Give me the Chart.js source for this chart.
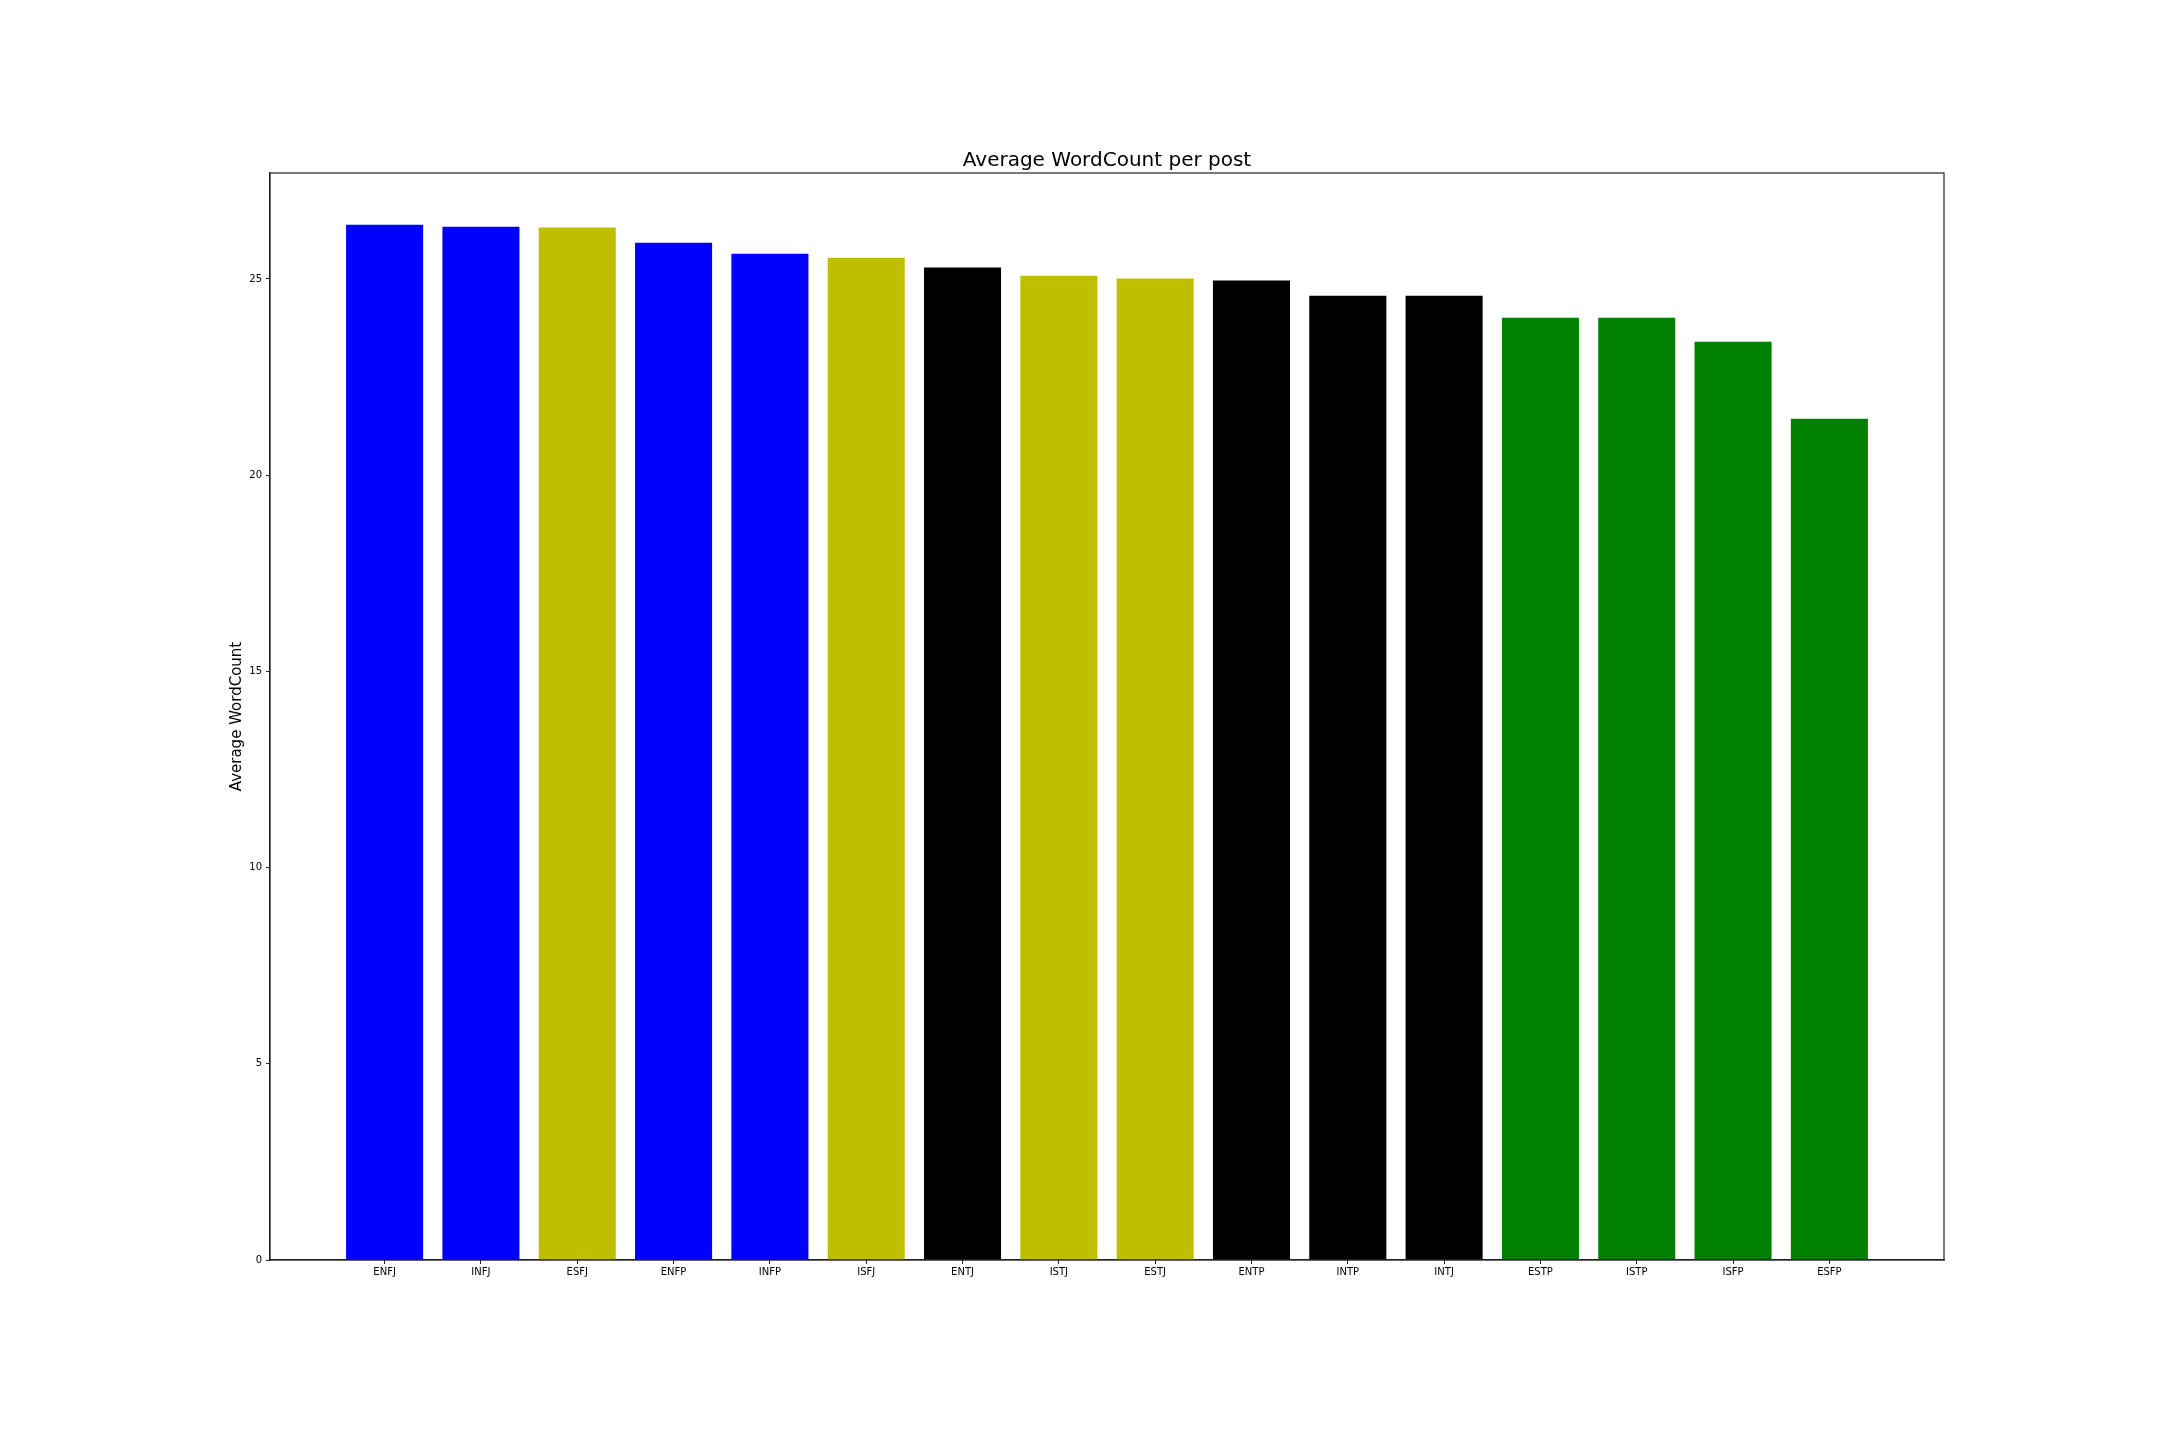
<!DOCTYPE html>
<html>
<head>
<meta charset="utf-8">
<script src="https://cdn.jsdelivr.net/npm/chart.js@4/dist/chart.umd.min.js"></script>
<style>
  html, body { margin: 0; padding: 0; background: #ffffff; }
  #wrap { width: 2160px; height: 1440px; position: relative; }
</style>
</head>
<body>
<div id="wrap"><canvas id="c" width="2160" height="1440"></canvas></div>
<script>
const categories = ["ENFJ","INFJ","ESFJ","ENFP","INFP","ISFJ","ENTJ","ISTJ","ESTJ","ENTP","INTP","INTJ","ESTP","ISTP","ISFP","ESFP"];
const avgWordCount = [26.38, 26.33, 26.31, 25.92, 25.64, 25.54, 25.29, 25.08, 25.01, 24.96, 24.57, 24.57, 24.01, 24.01, 23.40, 21.44];
const barColors = ["#0000ff","#0000ff","#bfbf00","#0000ff","#0000ff","#bfbf00","#000000","#bfbf00","#bfbf00","#000000","#000000","#000000","#008000","#008000","#008000","#008000"];
const yTicks = [0, 5, 10, 15, 20, 25];
const chartTitle = "Average WordCount per post";
const yLabel = "Average WordCount";

const FONT = "'DejaVu Sans', sans-serif";

const framePlugin = {
  id: 'frame',
  afterLayout(chart) {
    const t = chart.titleBlock;
    const a = chart.chartArea;
    if (t && a) {
      t.left = a.left;
      t.right = a.right;
      t.width = a.right - a.left;
    }
  },
  afterDatasetsDraw(chart) {
    const {ctx, chartArea: a} = chart;
    ctx.save();
    ctx.strokeStyle = '#222222';
    ctx.lineWidth = 1.2;
    ctx.strokeRect(a.left, a.top, a.right - a.left, a.bottom - a.top);
    ctx.restore();
  }
};

const points = categories.map((c, i) => ({x: i, y: avgWordCount[i]}));

new Chart(document.getElementById('c'), {
  type: 'bar',
  data: {
    datasets: [{
      data: points,
      backgroundColor: barColors,
      borderWidth: 0,
      categoryPercentage: 1.0,
      barPercentage: 0.8
    }]
  },
  options: {
    responsive: false,
    animation: false,
    devicePixelRatio: 1,
    layout: { padding: { left: 0, right: 216, top: 0, bottom: 0 } },
    plugins: {
      legend: { display: false },
      tooltip: { enabled: false },
      title: {
        display: true,
        text: chartTitle,
        color: '#000000',
        font: { family: FONT, size: 20, weight: 'normal', lineHeight: 1.2 },
        padding: { top: 149, bottom: 0 }
      }
    },
    scales: {
      x: {
        type: 'linear',
        min: -1.19,
        max: 16.19,
        offset: false,
        afterFit(scale) { scale.height = 180; },
        afterBuildTicks(scale) { scale.ticks = categories.map((c, i) => ({value: i})); },
        ticks: {
          autoSkip: false,
          maxRotation: 0,
          padding: 2,
          color: '#000000',
          font: { family: FONT, size: 10 },
          callback: (v) => categories[v] !== undefined ? categories[v] : ''
        },
        grid: { display: true, offset: false, drawOnChartArea: false, drawTicks: true, tickLength: 4, color: '#222222', lineWidth: 1 },
        border: { display: true, color: '#222222', width: 1.2 }
      },
      y: {
        min: 0,
        max: 27.7,
        afterFit(scale) { scale.width = 270; },
        afterBuildTicks(scale) { scale.ticks = yTicks.map(v => ({value: v})); },
        ticks: {
          padding: 4,
          color: '#000000',
          font: { family: FONT, size: 10 }
        },
        grid: { display: true, offset: false, drawOnChartArea: false, drawTicks: true, tickLength: 4, color: '#222222', lineWidth: 1 },
        border: { display: true, color: '#222222', width: 1.2 },
        title: {
          display: true,
          text: yLabel,
          color: '#000000',
          font: { family: FONT, size: 15, lineHeight: 1.2 },
          padding: { top: 228, bottom: 0 }
        }
      }
    }
  },
  plugins: [framePlugin]
});
</script>
</body>
</html>
